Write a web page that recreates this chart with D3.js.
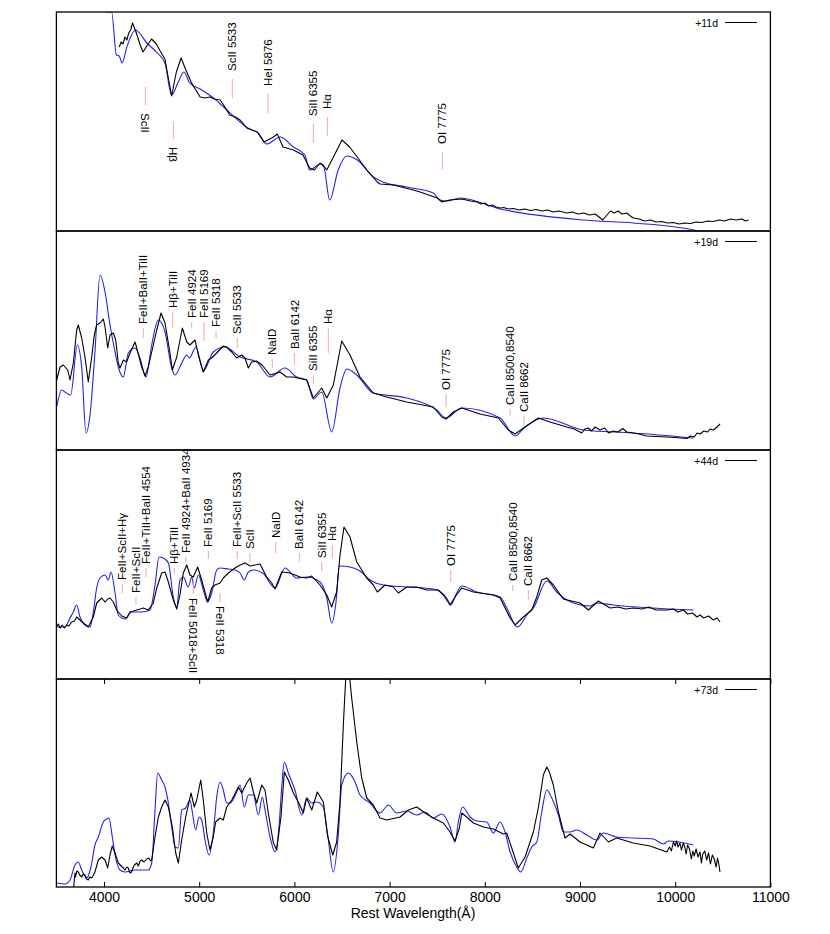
<!DOCTYPE html>
<html>
<head>
<meta charset="utf-8">
<script src="https://cdn.jsdelivr.net/npm/d3@7"></script>
<style>
body { margin: 0; background: #fff; }
svg { display: block; }
</style>
</head>
<body>
<svg id="chart" width="830" height="934"></svg>
<script>
// epochs, one panel each (top to bottom)
var epochs = ["+11d", "+19d", "+44d", "+73d"];
var yMax = [2.19, 2.19, 2.29, 2.08];   // flux range shown in each panel (arbitrary units)
var waveTicks = [4000, 5000, 6000, 7000, 8000, 9000, 10000, 11000];

// observed spectra [wavelength (A), scaled flux]
var obs11 = [[4160,1.84],[4180,1.89],[4200,1.87],[4220,1.94],[4240,1.91],[4260,1.98],[4280,2.01],[4300,2.08],
  [4340,1.98],[4380,1.86],[4410,1.79],[4450,1.85],[4500,1.92],[4550,1.87],[4590,1.80],[4640,1.72],[4670,1.56],
  [4710,1.35],[4760,1.59],[4810,1.73],[4860,1.61],[4920,1.48],[5010,1.34],[5060,1.33],[5110,1.34],[5160,1.32],
  [5220,1.31],[5270,1.24],[5320,1.16],[5380,1.14],[5430,1.11],[5500,1.03],[5610,0.99],[5680,0.89],[5780,0.94],
  [5820,0.97],[5880,0.84],[5990,0.81],[6090,0.76],[6160,0.63],[6210,0.61],[6270,0.68],[6300,0.66],[6340,0.61],
  [6410,0.74],[6500,0.91],[6580,0.84],[6660,0.74],[6760,0.61],[6870,0.49],[6900,0.47],[7040,0.46],[7250,0.41],
  [7320,0.39],[7500,0.33],[7550,0.29],[7630,0.31],[7760,0.32],[7850,0.30],[7920,0.29],[7960,0.27],[8000,0.28],
  [8040,0.25],[8080,0.26],[8120,0.24],[8160,0.23],[8200,0.235],[8240,0.22],[8300,0.225],[8360,0.21],[8420,0.22],
  [8480,0.205],[8540,0.215],[8600,0.20],[8660,0.21],[8720,0.19],[8780,0.20],[8860,0.18],[8920,0.19],[8980,0.17],
  [9040,0.18],[9100,0.16],[9160,0.17],[9240,0.11],[9320,0.20],[9360,0.18],[9400,0.20],[9440,0.17],[9490,0.18],
  [9530,0.15],[9560,0.13],[9620,0.12],[9680,0.10],[9740,0.11],[9800,0.09],[9860,0.095],[9920,0.08],[9980,0.085],
  [10040,0.07],[10100,0.08],[10160,0.075],[10220,0.09],[10280,0.085],[10340,0.10],[10400,0.095],[10460,0.11],
  [10520,0.10],[10580,0.12],[10640,0.11],[10700,0.12],[10740,0.10],[10770,0.11]];

var obs19 = [[3503,0.70],[3538,0.83],[3572,0.85],[3619,0.80],[3643,0.70],[3678,0.87],[3713,1.20],[3730,1.25],
  [3766,1.12],[3800,0.93],[3835,0.68],[3871,0.93],[3898,1.15],[3923,1.25],[3958,1.27],[3993,1.31],[4011,1.23],
  [4039,1.02],[4063,1.15],[4098,1.17],[4123,1.10],[4150,0.87],[4168,0.82],[4203,0.90],[4238,0.88],[4273,0.97],
  [4326,1.08],[4344,1.02],[4396,0.83],[4431,0.74],[4465,0.83],[4518,1.05],[4554,1.20],[4599,1.37],[4641,1.27],
  [4693,0.97],[4718,0.80],[4764,0.93],[4823,1.22],[4869,1.08],[4903,1.05],[4956,1.10],[4991,0.95],[5043,0.78],
  [5096,0.90],[5131,0.92],[5184,0.97],[5253,1.04],[5289,1.03],[5342,0.98],[5394,0.92],[5447,0.95],[5481,0.92],
  [5516,0.82],[5552,0.88],[5604,0.89],[5660,0.85],[5744,0.75],[5849,0.78],[5919,0.73],[5989,0.73],[6129,0.70],
  [6199,0.52],[6287,0.62],[6340,0.52],[6409,0.65],[6497,1.09],[6584,0.95],[6689,0.73],[6829,0.57],[6970,0.53],
  [7180,0.48],[7459,0.43],[7548,0.33],[7593,0.31],[7669,0.38],[7758,0.42],[7950,0.36],[8142,0.32],[8247,0.20],
  [8318,0.16],[8423,0.23],[8562,0.32],[8685,0.28],[8861,0.23],[8940,0.21],[9018,0.17],[9050,0.21],[9088,0.22],
  [9120,0.19],[9160,0.23],[9210,0.20],[9260,0.22],[9300,0.17],[9350,0.19],[9400,0.18],[9450,0.215],[9491,0.18],
  [9560,0.17],[9620,0.16],[9701,0.14],[9800,0.135],[9911,0.13],[10000,0.125],[10060,0.12],[10121,0.115],
  [10160,0.14],[10200,0.13],[10230,0.17],[10261,0.16],[10300,0.19],[10340,0.18],[10366,0.21],[10400,0.20],
  [10440,0.23],[10471,0.26]];

var obs44 = [[3500,0.52],[3520,0.55],[3538,0.51],[3560,0.54],[3585,0.51],[3608,0.54],[3630,0.53],[3661,0.57],
  [3690,0.58],[3713,0.62],[3748,0.59],[3783,0.56],[3835,0.52],[3888,0.62],[3923,0.76],[3976,0.81],[4011,0.77],
  [4040,0.80],[4063,0.81],[4098,0.77],[4133,0.69],[4186,0.63],[4238,0.61],[4273,0.67],[4310,0.68],[4344,0.69],
  [4380,0.70],[4413,0.71],[4465,0.69],[4518,0.76],[4554,0.91],[4606,1.06],[4641,1.07],[4676,0.97],[4728,0.79],
  [4764,0.70],[4798,0.84],[4833,1.06],[4869,1.14],[4903,1.04],[4938,1.02],[4984,1.12],[5026,0.99],[5089,0.77],
  [5131,0.91],[5166,0.94],[5219,0.96],[5253,1.01],[5306,1.06],[5376,1.11],[5429,1.14],[5481,1.16],[5534,1.13],
  [5639,1.15],[5709,1.02],[5762,0.96],[5796,0.90],[5867,1.07],[5954,1.06],[6059,1.02],[6129,1.01],[6182,1.03],
  [6269,0.94],[6340,0.84],[6392,0.72],[6444,0.87],[6479,1.24],[6521,1.52],[6584,1.42],[6655,1.17],[6760,1.01],
  [6829,0.94],[6871,0.87],[6952,0.94],[7039,0.92],[7092,0.86],[7180,0.92],[7285,0.92],[7390,0.89],[7512,0.89],
  [7564,0.84],[7635,0.74],[7687,0.82],[7758,0.91],[7880,0.87],[8090,0.84],[8161,0.81],[8266,0.61],[8318,0.54],
  [8405,0.62],[8493,0.69],[8546,0.82],[8598,0.99],[8651,1.01],[8720,0.94],[8825,0.80],[9000,0.76],[9088,0.69],
  [9193,0.78],[9316,0.71],[9400,0.72],[9480,0.70],[9560,0.71],[9650,0.70],[9720,0.72],[9800,0.69],[9911,0.69],
  [9980,0.70],[10030,0.67],[10086,0.69],[10130,0.65],[10180,0.66],[10230,0.62],[10261,0.64],[10300,0.61],
  [10350,0.63],[10400,0.59],[10440,0.61],[10471,0.57]];

var obs73 = [[3680,-0.02],[3695,0.14],[3700,0.10],[3715,0.16],[3730,0.15],[3745,0.12],[3766,0.10],[3780,0.13],
  [3800,0.12],[3815,0.08],[3835,0.07],[3850,0.10],[3871,0.09],[3885,0.11],[3905,0.15],[3940,0.27],[3976,0.30],
  [4011,0.27],[4039,0.19],[4063,0.32],[4087,0.41],[4116,0.34],[4150,0.24],[4180,0.21],[4203,0.19],[4220,0.17],
  [4238,0.20],[4255,0.19],[4273,0.14],[4290,0.15],[4308,0.20],[4320,0.22],[4344,0.24],[4360,0.21],[4380,0.26],
  [4396,0.27],[4420,0.25],[4449,0.28],[4470,0.29],[4490,0.26],[4501,0.27],[4536,0.50],[4571,0.70],[4606,0.80],
  [4641,0.87],[4676,0.80],[4718,0.60],[4753,0.34],[4781,0.24],[4816,0.47],[4858,0.70],[4886,0.82],[4914,0.94],
  [4949,0.80],[4974,0.87],[5016,1.07],[5043,0.87],[5079,0.54],[5113,0.37],[5148,0.50],[5173,0.65],[5219,0.69],
  [5253,0.67],[5289,0.80],[5342,0.87],[5411,1.00],[5447,0.94],[5499,1.04],[5534,1.09],[5569,0.95],[5604,0.84],
  [5657,1.02],[5691,0.97],[5726,0.74],[5779,0.44],[5814,0.37],[5859,0.70],[5894,1.15],[5936,1.07],[5989,0.94],
  [6041,0.85],[6094,0.74],[6129,0.89],[6182,0.77],[6241,0.95],[6304,0.85],[6346,0.52],[6403,0.32],[6444,0.45],
  [6479,0.85],[6514,1.62],[6553,2.35],[6602,1.89],[6655,1.45],[6707,1.09],[6760,0.89],[6829,0.82],[6899,0.69],
  [6970,0.67],[7110,0.70],[7197,0.77],[7285,0.80],[7372,0.74],[7459,0.69],[7564,0.64],[7635,0.55],[7687,0.46],
  [7733,0.59],[7758,0.74],[7810,0.70],[7880,0.64],[7985,0.60],[8090,0.58],[8195,0.53],[8230,0.54],[8283,0.39],
  [8352,0.19],[8423,0.30],[8510,0.55],[8562,0.79],[8615,1.12],[8651,1.20],[8678,1.15],[8720,1.02],[8773,0.75],
  [8843,0.49],[8896,0.53],[9000,0.45],[9071,0.42],[9140,0.39],[9210,0.54],[9298,0.45],[9386,0.49],[9560,0.44],
  [9736,0.41],[9911,0.35],[9940,0.40],[9960,0.36],[9981,0.45],[10000,0.41],[10015,0.46],[10030,0.40],
  [10050,0.44],[10065,0.37],[10086,0.44],[10100,0.40],[10115,0.33],[10130,0.42],[10150,0.38],[10170,0.28],
  [10185,0.36],[10200,0.31],[10220,0.38],[10240,0.30],[10261,0.35],[10275,0.24],[10290,0.33],[10310,0.36],
  [10330,0.27],[10350,0.34],[10370,0.23],[10390,0.32],[10410,0.28],[10430,0.20],[10445,0.29],[10460,0.22],
  [10470,0.15]];

// model spectra [wavelength (A), scaled flux]
var mod11 = [[3900,2.40],[4030,2.19],[4080,2.19],[4130,1.76],[4160,1.75],[4190,1.68],[4240,1.84],[4330,2.01],
  [4450,1.88],[4560,1.78],[4640,1.68],[4710,1.36],[4780,1.49],[4840,1.59],[4900,1.48],[5010,1.42],[5150,1.33],
  [5290,1.21],[5430,1.09],[5510,1.03],[5580,1.00],[5610,0.99],[5710,0.87],[5850,0.94],[5990,0.84],[6110,0.76],
  [6160,0.61],[6270,0.67],[6310,0.64],[6370,0.31],[6460,0.61],[6550,0.75],[6660,0.71],[6830,0.54],[6930,0.49],
  [7180,0.44],[7460,0.38],[7530,0.31],[7600,0.30],[7740,0.33],[8160,0.22],[9030,0.11],[9560,0.08],[10190,0.01],
  [10260,-0.01]];

var mod19 = [[3503,0.43],[3556,0.60],[3590,0.58],[3650,0.55],[3720,1.05],[3766,0.82],[3811,0.17],[3853,0.35],
  [3905,0.98],[3958,1.75],[4011,1.58],[4063,1.25],[4116,0.98],[4150,0.83],[4203,0.73],[4255,0.97],[4326,1.02],
  [4378,0.92],[4441,0.73],[4501,1.05],[4570,1.30],[4641,1.18],[4711,0.82],[4746,0.75],[4816,0.87],[4869,0.95],
  [4896,0.92],[4966,1.03],[5043,0.79],[5148,0.98],[5271,1.03],[5429,0.93],[5604,0.88],[5744,0.73],[5901,0.82],
  [6024,0.73],[6129,0.70],[6199,0.51],[6287,0.58],[6392,0.18],[6479,0.62],[6550,0.81],[6655,0.75],[6829,0.57],
  [7180,0.52],[7495,0.40],[7593,0.32],[7758,0.42],[8161,0.32],[8318,0.14],[8423,0.23],[8615,0.32],[9035,0.20],
  [9560,0.17],[10191,0.12]];

var mod44 = [[3500,0.52],[3590,0.52],[3643,0.61],[3678,0.67],[3713,0.74],[3748,0.62],[3800,0.54],[3853,0.52],
  [3888,0.67],[3923,0.91],[3958,1.01],[4011,1.04],[4045,0.99],[4074,1.07],[4116,0.86],[4150,0.64],[4221,0.60],
  [4291,0.67],[4396,0.67],[4483,0.69],[4536,0.94],[4578,1.22],[4623,1.21],[4676,1.16],[4728,0.82],[4764,0.72],
  [4798,0.99],[4833,1.02],[4886,0.92],[4921,1.02],[4949,0.91],[4991,1.04],[5043,0.89],[5089,0.77],[5131,0.86],
  [5184,1.09],[5219,1.11],[5306,1.10],[5376,1.09],[5429,1.06],[5474,0.99],[5516,1.07],[5568,1.09],[5667,1.06],
  [5796,0.91],[5901,1.11],[6024,1.01],[6129,1.02],[6269,0.97],[6340,0.81],[6392,0.56],[6437,0.77],[6472,1.13],
  [6584,1.12],[6689,1.08],[6794,0.99],[6934,0.94],[7180,0.92],[7459,0.90],[7600,0.81],[7642,0.74],[7705,0.86],
  [7758,0.93],[7915,0.87],[8161,0.82],[8231,0.71],[8342,0.52],[8457,0.66],[8510,0.71],[8651,0.98],[8756,0.87],
  [8861,0.79],[9105,0.73],[9176,0.76],[9350,0.74],[10191,0.69]];

var mod73 = [[3500,0.04],[3590,0.03],[3643,0.07],[3695,0.22],[3730,0.25],[3766,0.17],[3818,0.09],[3863,0.20],
  [3905,0.42],[3940,0.50],[3993,0.65],[4028,0.68],[4053,0.69],[4081,0.54],[4116,0.32],[4168,0.17],[4221,0.15],
  [4326,0.17],[4465,0.17],[4501,0.24],[4536,0.77],[4564,1.14],[4606,1.07],[4641,1.00],[4676,0.84],[4711,0.60],
  [4746,0.40],[4781,0.39],[4816,0.77],[4858,0.79],[4903,0.87],[4928,0.75],[4963,0.57],[4998,0.70],[5026,0.67],
  [5061,0.47],[5103,0.32],[5148,0.54],[5184,0.90],[5219,1.05],[5253,0.97],[5289,0.84],[5324,0.84],[5394,0.95],
  [5429,1.02],[5474,0.80],[5516,0.92],[5569,0.92],[5621,0.72],[5663,0.90],[5691,0.77],[5744,0.50],[5796,0.35],
  [5838,0.60],[5867,1.00],[5894,1.25],[5936,1.14],[6006,0.97],[6077,0.72],[6129,0.89],[6182,0.84],[6234,0.85],
  [6304,0.80],[6346,0.55],[6409,0.15],[6461,0.52],[6497,1.02],[6567,1.14],[6637,1.05],[6689,0.92],[6794,0.84],
  [6899,0.74],[6987,0.82],[7075,0.74],[7180,0.76],[7285,0.72],[7372,0.75],[7459,0.69],[7548,0.73],[7635,0.60],
  [7687,0.45],[7722,0.65],[7768,0.80],[7845,0.70],[7915,0.66],[8020,0.65],[8090,0.54],[8161,0.65],[8213,0.55],
  [8266,0.35],[8336,0.20],[8378,0.15],[8441,0.29],[8493,0.40],[8546,0.45],[8598,0.75],[8651,0.97],[8703,0.89],
  [8773,0.72],[8825,0.55],[8896,0.55],[8966,0.57],[9071,0.52],[9176,0.47],[9246,0.54],[9386,0.50],[9560,0.49],
  [9770,0.48],[9876,0.43],[9928,0.46],[10191,0.42]];

// line identifications: [name, wavelength, marker top flux, marker bottom flux, text side]
var labels11 = [["ScII", 4434, 1.44, 1.26, "below"], ["H\u03b2", 4728, 1.10, 0.92, "below"],
  ["ScII 5533", 5348, 1.52, 1.33, "above"], ["HeI 5876", 5723, 1.37, 1.18, "above"],
  ["SiII 6355", 6199, 1.07, 0.88, "above"], ["H\u03b1", 6346, 1.14, 0.95, "above"],
  ["OI 7775", 7554, 0.79, 0.62, "above"]];

var labels19 = [["FeII+BaII+TiII", 4413, 1.22, 1.12, "above"], ["H\u03b2+TiII", 4722, 1.38, 1.22, "above"],
  ["FeII 4924", 4921, 1.28, 1.22, "above"], ["FeII 5169", 5051, 1.28, 1.09, "above"],
  ["FeII 5318", 5177, 1.19, 1.12, "above"], ["ScII 5533", 5400, 1.12, 1.02, "above"],
  ["NaID", 5768, 0.91, 0.82, "above"], ["BaII 6142", 6000, 0.97, 0.85, "above"],
  ["SiII 6355", 6199, 0.75, 0.66, "above"], ["H\u03b1", 6356, 1.22, 0.97, "above"],
  ["OI 7775", 7593, 0.56, 0.43, "above"], ["CaII 8500,8540", 8265, 0.41, 0.34, "above"],
  ["CaII 8662", 8412, 0.34, 0.25, "above"]];

var labels44 = [["FeII+ScII+H\u03b3", 4192, 0.95, 0.86, "above"], ["FeII+ScII", 4336, 0.82, 0.75, "above"],
  ["FeII+TiII+BaII 4554", 4441, 1.11, 1.02, "above"], ["H\u03b2+TiII", 4739, 1.11, 1.06, "above"],
  ["FeII 4924+BaII 4934", 4858, 1.22, 1.17, "above"], ["FeII 5018+ScII", 4938, 0.96, 0.85, "below"],
  ["FeII 5169", 5096, 1.28, 1.20, "above"], ["FeII 5318", 5219, 0.86, 0.77, "below"],
  ["FeII+ScII 5533", 5400, 1.28, 1.20, "above"], ["ScII", 5534, 1.26, 1.17, "above"],
  ["NaID", 5804, 1.37, 1.26, "above"], ["BaII 6142", 6052, 1.26, 1.17, "above"],
  ["SiII 6355", 6287, 1.17, 1.08, "above"], ["H\u03b1", 6398, 1.34, 1.21, "above"],
  ["OI 7775", 7642, 1.09, 0.97, "above"], ["CaII 8500,8540", 8293, 0.94, 0.88, "above"],
  ["CaII 8662", 8457, 0.89, 0.79, "above"]];
var labels73 = [];

var observed = [obs11, obs19, obs44, obs73];
var models = [mod11, mod19, mod44, mod73];
var lineIds = [labels11, labels19, labels44, labels73];

// layout
var panelBox = [[12, 231], [231, 450], [450, 679], [679, 887]];
var textGap = [8, 4, 4, 4];
var font = "'Liberation Sans', Arial, Helvetica, sans-serif";

var svg = d3.select("#chart");
var x = d3.scaleLinear().domain([3500, 11000]).range([56.4, 770.4]);

function drawPanel(i) {
  var pTop = panelBox[i][0], pBot = panelBox[i][1];
  var y = d3.scaleLinear().domain([0, yMax[i]]).range([pBot, pTop]);

  svg.append("clipPath").attr("id", "clip" + i)
    .append("rect")
      .attr("x", x.range()[0]).attr("y", pTop)
      .attr("width", x.range()[1] - x.range()[0]).attr("height", pBot - pTop);

  var spec = svg.append("g").attr("clip-path", "url(#clip" + i + ")");
  spec.append("path").datum(models[i])
    .attr("d", d3.line().x(function (d) { return x(d[0]); }).y(function (d) { return y(d[1]); })
      .curve(d3.curveMonotoneX))
    .attr("fill", "none").attr("stroke", "#2222ee").attr("stroke-width", 1.1);
  spec.append("path").datum(observed[i])
    .attr("d", d3.line().x(function (d) { return x(d[0]); }).y(function (d) { return y(d[1]); }))
    .attr("fill", "none").attr("stroke", "#000").attr("stroke-width", 1.1)
    .attr("stroke-linejoin", "round");

  // line identifications
  var ids = svg.append("g").attr("class", "ids");
  lineIds[i].forEach(function (l) {
    var lx = x(l[1]);
    ids.append("line")
      .attr("x1", lx).attr("x2", lx)
      .attr("y1", y(l[2])).attr("y2", y(l[3]))
      .attr("stroke", "#f6a5a5").attr("stroke-width", 1);
    var ty = l[4] == "above" ? y(l[2]) - textGap[i] : y(l[3]) + textGap[i];
    ids.append("text")
      .attr("transform", "translate(" + lx + "," + ty + ") rotate(" + (l[4] == "above" ? -90 : 90) + ")")
      .attr("dy", "0.36em")
      .attr("font-family", font).attr("font-size", "11.5px")
      .attr("fill", "#000")
      .text(l[0]);
  });

  // legend
  svg.append("text")
    .attr("x", 718).attr("y", pTop + 14.5)
    .attr("text-anchor", "end")
    .attr("font-family", font).attr("font-size", "10.5px")
    .text(epochs[i]);
  svg.append("line")
    .attr("x1", 725).attr("x2", 757)
    .attr("y1", pTop + 10.5).attr("y2", pTop + 10.5)
    .attr("stroke", "#000").attr("stroke-width", 1);

  // frame
  svg.append("rect")
    .attr("x", x.range()[0]).attr("y", pTop)
    .attr("width", x.range()[1] - x.range()[0]).attr("height", pBot - pTop)
    .attr("fill", "none").attr("stroke", "#000").attr("stroke-width", 1.3);
}

for (var i = 0; i < epochs.length; i++) {
  drawPanel(i);
}

// wavelength axis on the last panel only
var last = panelBox[panelBox.length - 1];
var axTop = svg.append("g")
  .attr("transform", "translate(0," + last[0] + ")")
  .call(d3.axisTop(x).tickValues(waveTicks).tickSizeInner(-5).tickSizeOuter(0).tickFormat(""));
axTop.select(".domain").remove();

var axBot = svg.append("g")
  .attr("transform", "translate(0," + last[1] + ")")
  .call(d3.axisBottom(x).tickValues(waveTicks).tickSizeInner(-5).tickSizeOuter(0).tickPadding(5)
    .tickFormat(d3.format("d")));
axBot.select(".domain").remove();
axBot.attr("font-family", font).attr("font-size", "14px");
axBot.selectAll("text").attr("fill", "#000");

svg.append("text")
  .attr("x", 413).attr("y", 918)
  .attr("text-anchor", "middle")
  .attr("font-family", font).attr("font-size", "14px")
  .text("Rest Wavelength(\u00c5)");
</script>
</body>
</html>
